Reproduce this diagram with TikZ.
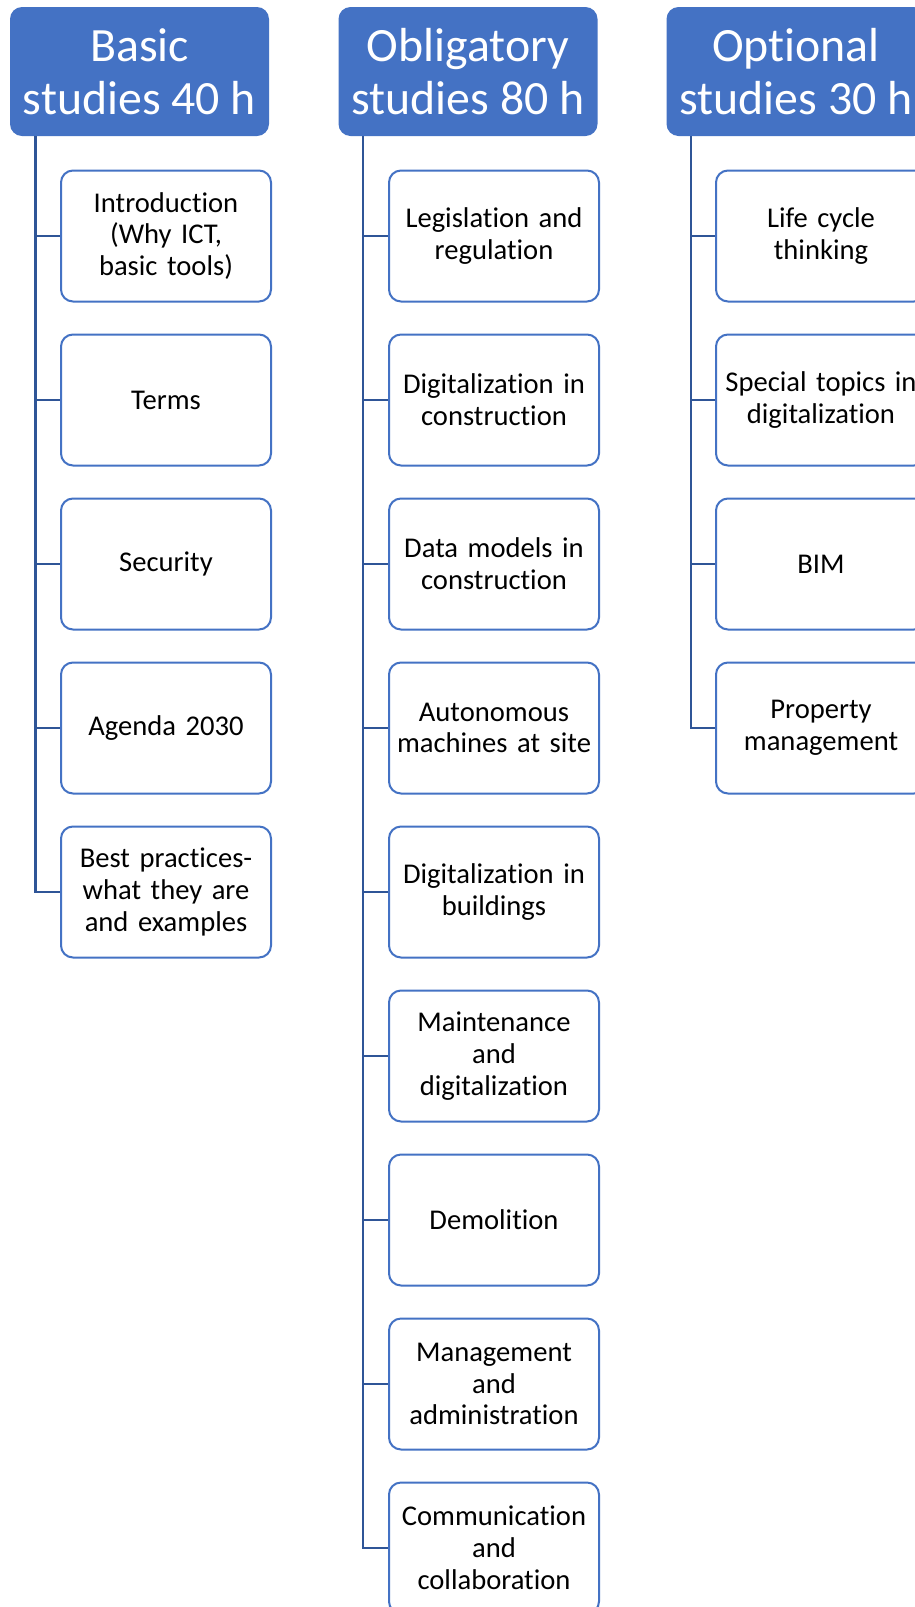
\documentclass[tikz,border=0pt]{standalone}
\usepackage{fontspec}
\setmainfont{Carlito}[Ligatures={NoCommon}]
\usetikzlibrary{positioning}
\definecolor{hdrblue}{HTML}{4472C4}
\definecolor{linkblue}{HTML}{2F5597}
\tikzset{
  hdr/.style={fill=hdrblue, rounded corners=6pt, minimum width=129.5pt, minimum height=64.5pt,
    inner sep=0pt, text=white, align=center, font=\fontsize{23.9}{26.5}\selectfont},
  topic/.style={draw=hdrblue, line width=1pt, fill=white, rounded corners=6pt,
    minimum width=105pt, minimum height=65.5pt, inner sep=0pt, text width=103pt,
    align=center, font=\fontsize{14.3}{15.9}\selectfont},
  link/.style={draw=linkblue, line width=1.2pt}
}

\begin{document}
\begin{tikzpicture}[x=0.5pt,y=-0.5pt]
        \clip (0,0) rectangle (915,1607);
        \fill[white] (0,0) rectangle (915,1607);

        % headers
        \node[hdr] (basic) at (139.5,71.5) {Basic\\studies 40 h};
        \node[hdr] (oblig) at (468,71.5) {Obligatory\\studies 80 h};
        \node[hdr] (option) at (796,71.5) {Optional\\studies 30 h};

        % basic studies
        \node[topic] (b1) at (166,236) {Introduction\\(Why ICT,\\basic tools)};
        \node[topic, below=15.5pt of b1] (b2) {Terms};
        \node[topic, below=15.5pt of b2] (b3) {Security};
        \node[topic, below=15.5pt of b3] (b4) {Agenda 2030};
        \node[topic, below=15.5pt of b4] (b5) {Best practices-\\what they are\\and examples};

        % obligatory studies
        \node[topic] (o1) at (494,236) {Legislation and\\regulation};
        \node[topic, below=15.5pt of o1] (o2) {Digitalization in\\construction};
        \node[topic, below=15.5pt of o2] (o3) {Data models in\\construction};
        \node[topic, below=15.5pt of o3] (o4) {Autonomous\\machines at site};
        \node[topic, below=15.5pt of o4] (o5) {Digitalization in\\buildings};
        \node[topic, below=15.5pt of o5] (o6) {Maintenance\\and\\digitalization};
        \node[topic, below=15.5pt of o6] (o7) {Demolition};
        \node[topic, below=15.5pt of o7] (o8) {Management\\and\\administration};
        \node[topic, below=15.5pt of o8] (o9) {Communication\\and\\collaboration};

        % optional studies
        \node[topic] (p1) at (821,236) {Life cycle\\thinking};
        \node[topic, below=15.5pt of p1] (p2) {Special topics in\\digitalization};
        \node[topic, below=15.5pt of p2] (p3) {BIM};
        \node[topic, below=15.5pt of p3] (p4) {Property\\management};

        % connectors
        \coordinate (basicline) at ([xshift=13pt]basic.south west);
        \coordinate (obligline) at ([xshift=12.5pt]oblig.south west);
        \coordinate (optionline) at ([xshift=12.5pt]option.south west);
        \foreach \i in {1,...,5} \draw[link] (basicline) |- (b\i.west);
        \foreach \i in {1,...,9} \draw[link] (obligline) |- (o\i.west);
        \foreach \i in {1,...,4} \draw[link] (optionline) |- (p\i.west);
\end{tikzpicture}
\end{document}
